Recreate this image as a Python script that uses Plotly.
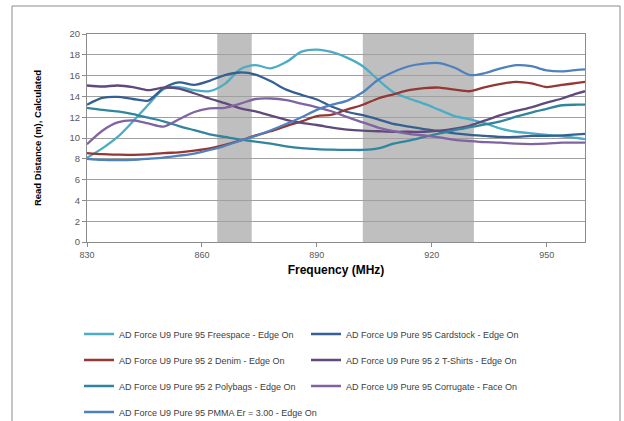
import plotly.graph_objects as go

freq = [830, 834, 838, 842, 846, 850, 854, 858, 862, 866, 870, 874, 878, 882, 886, 890,
        894, 898, 902, 906, 910, 914, 918, 922, 926, 930, 934, 938, 942, 946, 950, 954, 958, 960]

freespace = [8.1, 9.0, 10.1, 11.6, 13.2, 14.7, 14.9, 14.6, 14.5, 15.2, 16.6, 17.0, 16.7, 17.3, 18.3, 18.5,
             18.25, 17.7, 16.9, 15.6, 14.4, 13.8, 13.3, 12.7, 12.1, 11.8, 11.4, 10.9, 10.6, 10.45, 10.3, 10.15, 10.0, 9.9]
cardstock = [13.2, 13.85, 13.95, 13.75, 13.6, 14.8, 15.35, 15.1, 15.5, 16.05, 16.3, 16.1, 15.45, 14.65, 14.15, 13.7,
             13.0, 12.5, 12.2, 11.8, 11.35, 11.1, 10.85, 10.65, 10.45, 10.3, 10.2, 10.1, 10.1, 10.2, 10.2, 10.25, 10.35, 10.4]
denim = [8.55, 8.45, 8.4, 8.37, 8.42, 8.55, 8.62, 8.78, 9.0, 9.35, 9.75, 10.25, 10.65, 11.15, 11.6, 12.1,
         12.25, 12.75, 13.2, 13.8, 14.2, 14.6, 14.8, 14.85, 14.65, 14.5, 14.9, 15.2, 15.4, 15.25, 14.9, 15.1, 15.3, 15.4]
tshirts = [15.05, 14.95, 15.05, 14.9, 14.6, 14.85, 14.75, 14.3, 13.8, 13.35, 12.85, 12.55, 12.15, 11.75, 11.45, 11.25,
           11.0, 10.8, 10.7, 10.65, 10.6, 10.6, 10.6, 10.7, 10.9, 11.2, 11.7, 12.2, 12.6, 12.95, 13.4, 13.8, 14.3, 14.5]
polybags = [12.9, 12.7, 12.55, 12.3, 11.95, 11.6, 11.15, 10.75, 10.35, 10.1, 9.85, 9.65, 9.45, 9.2, 9.03, 8.93,
            8.88, 8.86, 8.85, 9.0, 9.45, 9.75, 10.1, 10.45, 10.75, 11.05, 11.3, 11.6, 12.05, 12.45, 12.8, 13.15, 13.2, 13.2]
corrugate = [9.4, 10.7, 11.5, 11.7, 11.4, 11.1, 11.8, 12.5, 12.85, 12.9, 13.3, 13.75, 13.8, 13.65, 13.3, 12.95,
             12.55, 12.0, 11.5, 11.0, 10.65, 10.4, 10.25, 10.05, 9.82, 9.7, 9.6, 9.55, 9.45, 9.42, 9.45, 9.55, 9.55, 9.55]
pmma = [8.0, 7.9, 7.88, 7.9, 8.0, 8.12, 8.3, 8.5, 8.85, 9.25, 9.74, 10.2, 10.75, 11.35, 12.0, 12.7,
        13.2, 13.6, 14.4, 15.6, 16.35, 16.9, 17.15, 17.2, 16.75, 16.05, 16.25, 16.7, 17.0, 16.9, 16.5, 16.4, 16.55, 16.6]

series_names = [
    "AD Force U9 Pure 95 Freespace - Edge On",
    "AD Force U9 Pure 95 Cardstock - Edge On",
    "AD Force U9 Pure 95 2 Denim - Edge On",
    "AD Force U9 Pure 95 2 T-Shirts - Edge On",
    "AD Force U9 Pure 95 2 Polybags - Edge On",
    "AD Force U9 Pure 95 Corrugate - Face On",
    "AD Force U9 Pure 95 PMMA Er = 3.00 - Edge On",
]
series_values = [freespace, cardstock, denim, tshirts, polybags, corrugate, pmma]
colors = ["#4BACC6", "#376092", "#953735", "#604A7B", "#31859C", "#8064A2", "#4F81BD"]

bands = [(864, 873), (902, 931)]

x_ticks = [830, 860, 890, 920, 950]
y_ticks = list(range(0, 21, 2))

FONT = "Liberation Sans"

# layout geometry in pixels
W, H = 624, 421
L, R, T, B = 87, 585, 34, 242
pw, ph = R - L, B - T

def px_x(p):
    return (p - L) / pw

def px_y(p):
    return (B - p) / ph

fig = go.Figure()
legend_rows = [334, 360, 386, 412]
legend_cols = [79, 306]
layout_legends = {}
for i, (name, vals, col) in enumerate(zip(series_names, series_values, colors)):
    lname = "legend" if i == 0 else f"legend{i + 1}"
    fig.add_trace(go.Scatter(
        x=freq, y=vals, name=name, mode="lines",
        line=dict(color=col, width=2.3, shape="spline", smoothing=0.8),
        legend=lname,
    ))
    row, colidx = divmod(i, 2)
    layout_legends[lname] = dict(
        x=px_x(legend_cols[colidx]), xanchor="left",
        y=px_y(legend_rows[row]), yanchor="middle",
        bgcolor="rgba(0,0,0,0)", borderwidth=0,
        font=dict(family=FONT, size=9, color="#404040"),
        itemwidth=30,
    )

for a, b in bands:
    fig.add_shape(type="rect", xref="x", yref="paper", x0=a, x1=b, y0=0, y1=1,
                  fillcolor="#BFBFBF", line=dict(width=0), layer="below")

# outer chart frame
fig.add_shape(type="rect", xref="paper", yref="paper",
              x0=px_x(12), x1=px_x(620), y0=px_y(6), y1=px_y(430),
              line=dict(color="#8C8C8C", width=1), fillcolor="rgba(0,0,0,0)", layer="above")

fig.update_layout(
    width=W, height=H,
    margin=dict(l=L, r=W - R, t=T, b=H - B, pad=0, autoexpand=False),
    paper_bgcolor="white", plot_bgcolor="white",
    font=dict(family=FONT, size=9, color="#595959"),
    xaxis=dict(
        range=[830, 960], tickvals=x_ticks, ticks="outside", ticklen=4, tickcolor="#8C8C8C",
        showgrid=False, showline=True, linecolor="#8C8C8C", linewidth=1, mirror=True,
        zeroline=False, tickfont=dict(family=FONT, size=9, color="#595959"),
        title=dict(text="<b>Frequency (MHz)</b>", font=dict(family=FONT, size=12, color="#000000"), standoff=6),
    ),
    yaxis=dict(
        range=[0, 20], tickvals=y_ticks, ticks="outside", ticklen=4, tickcolor="#8C8C8C",
        showgrid=True, gridcolor="#A0A0A0", gridwidth=1,
        showline=True, linecolor="#8C8C8C", linewidth=1, mirror=True,
        zeroline=False, tickfont=dict(family=FONT, size=9.5, color="#595959"),
        title=dict(text="<b>Read Distance (m), Calculated</b>", font=dict(family=FONT, size=9.5, color="#000000"), standoff=26),
    ),
    showlegend=True,
    **layout_legends,
)

fig.write_html(
    "out.html",
    config={"displayModeBar": False},
    post_script="document.body.style.margin='0';document.body.style.overflow='hidden';",
)
